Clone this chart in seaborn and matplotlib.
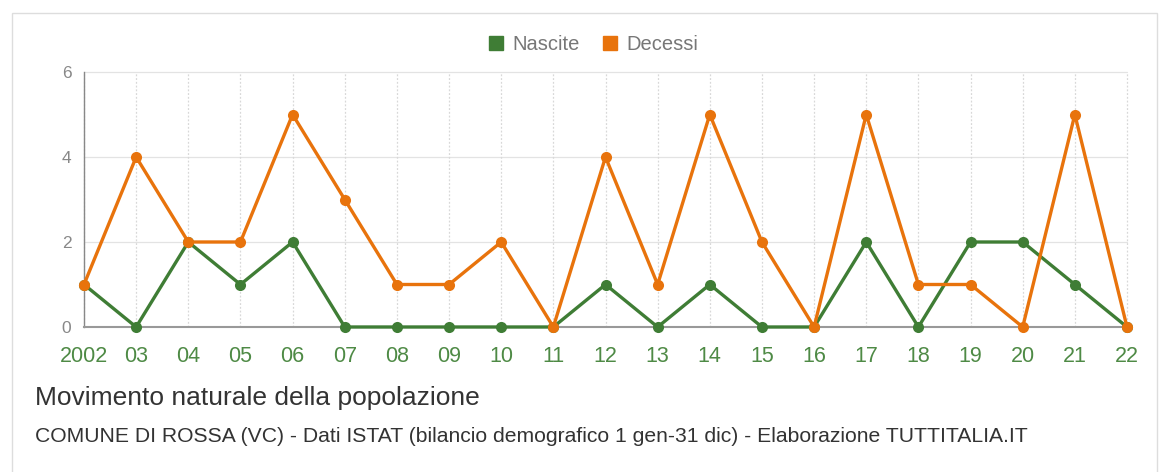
import numpy as np
import pandas as pd
import matplotlib
matplotlib.use("Agg")
import matplotlib.pyplot as plt
import seaborn as sns
from matplotlib.patches import Rectangle
from matplotlib.lines import Line2D

years = list(range(2002, 2023))
tick_labels = ["2002"] + [f"{y % 100:02d}" for y in range(2003, 2023)]
nascite = [1, 0, 2, 1, 2, 0, 0, 0, 0, 0, 1, 0, 1, 0, 0, 2, 0, 2, 2, 1, 0]
decessi = [1, 4, 2, 2, 5, 3, 1, 1, 2, 0, 4, 1, 5, 2, 0, 5, 1, 1, 0, 5, 0]
series_names = ["Nascite", "Decessi"]
colors = {"Nascite": "#3f7d35", "Decessi": "#e8730c"}

df = pd.DataFrame({
    "anno": years * 2,
    "valore": nascite + decessi,
    "serie": ["Nascite"] * len(years) + ["Decessi"] * len(years),
})

sns.set_style("white")
plt.rcParams["font.family"] = ["Liberation Sans", "DejaVu Sans"]

fig = plt.figure(figsize=(11.71, 4.72), dpi=100)
fig.patch.set_facecolor("white")
# outer border
fig.patches.append(Rectangle((12 / 1171, -0.1), (1157 - 12) / 1171, 1.1 - 13 / 472,
                             transform=fig.transFigure, fill=False,
                             edgecolor="#dddddd", linewidth=1.0))

ax = fig.add_axes([84 / 1171, 1 - 327 / 472, (1127 - 84) / 1171, (327 - 72) / 472])

for y in [2, 4, 6]:
    ax.axhline(y, color="#e3e3e3", lw=0.9, zorder=0)
for x in years:
    ax.axvline(x, color="#d8d8d8", lw=0.9, ls=(0, (1.5, 1.5)), zorder=0)

sns.lineplot(data=df, x="anno", y="valore", hue="serie", hue_order=series_names,
             palette=colors, marker="o", markersize=8, markeredgewidth=0,
             linewidth=2.4, ax=ax, legend=False, zorder=3)
for ln in ax.lines:
    ln.set_clip_on(False)

ax.set_xlim(2002, 2022)
ax.set_ylim(0, 6)
ax.set_xticks(years)
ax.set_xticklabels(tick_labels)
ax.set_yticks([0, 2, 4, 6])
ax.set_xlabel("")
ax.set_ylabel("")
for s in ["top", "right"]:
    ax.spines[s].set_visible(False)
ax.spines["left"].set_color("#888888")
ax.spines["bottom"].set_color("#999999")
ax.spines["left"].set_linewidth(1.0)
ax.spines["bottom"].set_linewidth(1.5)
ax.tick_params(axis="x", colors="#999999", length=8, width=0.8, labelsize=15.5,
               labelcolor="#4e8a45", pad=6)
ax.tick_params(axis="y", colors="#999999", length=6, width=0.8, labelsize=12.5,
               labelcolor="#888888", pad=3)

handles = [Line2D([], [], marker="s", ls="", markersize=10.5, color=colors[n]) for n in series_names]
fig.legend(handles, series_names, loc="center", bbox_to_anchor=(591 / 1171, 1 - 45 / 472),
           ncol=2, frameon=False, fontsize=14.5, labelcolor="#777777",
           handletextpad=0.2, columnspacing=0.9, handlelength=1.2)

fig.text(35 / 1171, 1 - 398 / 472, "Movimento naturale della popolazione",
         fontsize=19, color="#333333", va="center", ha="left")
fig.text(35 / 1171, 1 - 437 / 472,
         "COMUNE DI ROSSA (VC) - Dati ISTAT (bilancio demografico 1 gen-31 dic) - Elaborazione TUTTITALIA.IT",
         fontsize=15.2, color="#333333", va="center", ha="left")

fig.savefig("out.png", dpi=100, facecolor="white")
